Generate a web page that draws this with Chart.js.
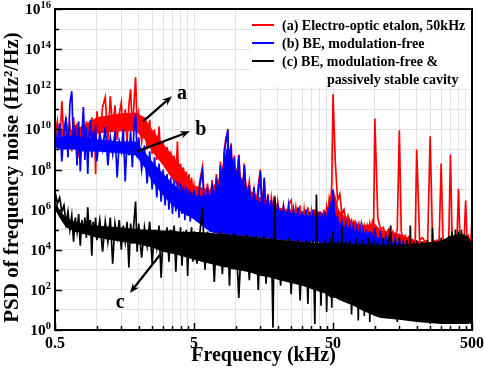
<!DOCTYPE html>
<html>
<head>
<meta charset="utf-8">
<script src="https://cdn.jsdelivr.net/npm/chart.js@4.4.1/dist/chart.umd.min.js"></script>
<style>
  html, body { margin: 0; padding: 0; background: #fff; }
  canvas { display: block; }
</style>
</head>
<body>
<canvas id="psdChart" width="484" height="375"></canvas>
<script>
// ======================== Data ========================
// frequency axis (kHz), shared by the three traces
const freqKHz = [
  0.50,0.52,0.54,0.56,0.58,0.60,0.62,0.64,0.66,0.68,0.70,0.72,0.74,0.76,0.78,0.80,0.82,0.84,0.86,0.88,0.90,0.92,0.94,0.96,0.98,
  1.00,1.05,1.10,1.15,1.20,1.25,1.30,1.35,1.40,1.45,1.50,1.55,1.60,1.65,1.70,1.75,1.80,1.85,1.90,1.95,
  2.0,2.1,2.2,2.3,2.4,2.5,2.6,2.7,2.8,2.9,3.0,3.1,3.2,3.3,3.4,3.5,3.6,3.7,3.8,3.9,4.0,4.1,4.2,4.3,4.4,4.5,4.6,4.7,4.8,4.9,
  5.0,5.25,5.5,5.75,6.0,6.25,6.5,6.75,7.0,7.25,7.5,7.75,8.0,8.25,8.5,8.75,9.0,9.25,9.5,9.75,
  10,10.5,11,11.5,12,12.5,13,13.5,14,14.5,15,15.5,16,16.5,17,17.5,18,18.5,19,19.5,
  20,21,22,23,24,25,26,27,28,29,30,31,32,33,34,35,36,37,38,39,40,41,42,43,44,45,46,47,48,49,
  50,52,54,56,58,60,62,64,66,68,70,72,74,76,78,80,82,84,86,88,90,92,94,96,98,
  100,105,110,115,120,125,130,135,140,145,150,155,160,165,170,175,180,185,190,195,
  200,210,220,230,240,250,260,270,280,290,300,310,320,330,340,350,360,370,380,390,400,410,420,430,440,450,460,470,480,490,500
];

// (a) Electro-optic etalon, 50kHz  (red)
const psdEtalon = [
  4e9,2.5e10,1e9,2.5e11,2.5e9,3e10,6e9,1.6e10,8e8,4e10,2e9,2e10,4e8,1.3e10,3e9,5e10,1.6e9,2.5e10,6e8,2e10,5e9,4e10,1.3e9,3e10,6e7,
  8e10,4e9,1.3e11,4e11,2.5e9,4.5e11,1e10,1.6e11,3e9,6e10,2.2e11,6e9,1e11,2e9,1.6e11,1e12,8e9,2e11,4e12,1.3e10,
  6e10,2.5e9,4e10,1e9,3e10,6e8,1e10,3e8,1.4e10,2.5e8,2.5e9,1.3e8,1.3e9,6e7,8e8,4e7,5e8,2.5e7,2.5e9,1.6e7,2e8,1e7,1.3e8,1e7,8e7,6e6,6e7,5e6,4e7,4e6,
  1.6e7,1e6,2.5e7,1.4e8,1e6,2e7,1.3e6,3e7,1e6,6e7,2e6,2.5e8,3e6,1e9,4e9,7e9,2.5e7,2e9,4e6,5e8,
  4e6,5.6e8,1.6e6,2e8,3e6,2.5e7,1e6,1e7,1.3e6,1.6e7,1e8,1e6,3e7,8e5,6e6,6e5,4e6,8e5,5e6,5e5,
  2.5e6,2e5,1.6e6,1.6e5,2e6,3e6,1.6e5,1.3e6,1.3e5,1.6e6,1e5,1e6,1.3e5,1.3e6,1e5,8e5,1.3e5,1e6,1e5,8e5,1.6e5,8e5,1.3e5,1e6,2.5e5,1.3e6,4e5,4e6,2.5e6,1.6e7,
  5.6e11,2e8,3e6,6e6,6e5,1e6,2.5e5,5e5,2e5,3e5,1.3e5,2.5e5,1e5,2e5,8e4,2e5,6e4,1.6e5,8e4,1.6e5,6e4,2e5,1e5,2.5e5,1.6e5,
  3.5e10,4e5,1e5,1.3e5,5e4,1e5,4e4,8e4,5e4,1e5,9e9,8e4,3e4,5e4,2.5e4,4e4,2e4,3e4,1.6e4,2.5e4,
  1e9,3e4,4e4,2.5e4,3e4,4.5e9,3e4,2.5e4,3e4,2.5e4,2e8,2.5e4,3e4,2e4,3e4,5.6e8,2.5e4,3e4,2e4,4e4,1.1e7,3e4,4e4,2.5e4,5e4,2.8e6,4e4,5e4,3e4,2.5e4,3e5
];

// (b) BE, modulation-free  (blue)
const psdBE = [
  1e10,1.6e9,2e10,2.5e8,8e9,4e10,4e8,2e11,8e11,1e9,1.6e10,1.6e8,2.5e10,8e7,4e9,1.3e11,3e8,1.3e10,6e7,6e9,3e10,4e8,8e9,8e8,1.6e10,
  2.5e8,6e9,1e9,1.3e10,1.6e8,4e9,6e8,8e9,4e7,2.5e9,8e8,1e10,2.5e7,3e9,5e8,8e9,1.3e8,1e10,6e10,4e8,
  4e9,1e8,1.6e9,2e7,8e8,1e7,4e8,4e6,2e8,2.5e6,1e8,1.6e6,6e7,1e6,4e7,6e5,3e7,8e5,2.5e7,4e5,2e7,6e5,1.6e7,3e5,1.3e7,5e5,1e7,2.5e5,8e6,4e5,
  1e7,2.5e5,1.6e7,8e7,3e5,1.3e7,4e5,2e7,2.5e5,4e7,6e5,1.6e8,1e6,6e8,2.5e9,1e10,1e7,1.6e9,1.6e6,4e8,
  1e6,5e8,6e5,1.6e8,1.3e6,1.6e7,3e5,1.3e7,5e5,6e6,8e7,4e5,4e7,3e5,5e6,2e5,3e6,4e5,4e6,1.6e5,
  2e6,1e5,1.3e6,6e4,1.6e6,1.3e5,1e6,5e4,1.3e6,1e5,8e5,4e4,1e6,100,8e5,6e4,1e6,3e4,6e5,8e4,8e5,60,6e5,5e4,8e5,4e4,1.3e6,8e4,2.5e6,1.6e5,
  1e7,1e5,4e5,4e4,2.5e5,5e4,2e5,2.5e4,2e5,4e4,1.6e5,2e4,1.3e5,3e4,1.3e5,1.6e4,1e5,2.5e4,1e5,1.3e4,8e4,2e4,8e4,1.6e4,7e4,
  1e5,1.3e4,6e4,1e4,5e4,1.6e4,4e4,8e3,4e4,1e4,3e4,6e3,2.5e4,1e4,2e4,5e3,1.6e4,8e3,1.6e4,4e3,
  1.3e4,6,1e4,3e3,1e4,4e3,8e3,10,1e4,2.5e3,8e3,4e3,1e4,2e3,8e3,4,1e4,3e3,1.3e4,2.5,1e4,2.5e3,1.3e4,3e3,1e4,3,1.6e4,4e3,1.3e4,5,8e3
];

// (c) BE, modulation-free & passively stable cavity  (black)
const psdBEStable = [
  8e6,2e6,4e6,8e5,1.6e6,2e5,8e5,1e5,5e5,2.5e4,4e5,8e4,6e5,1.6e4,3e5,6e4,4e5,4e4,1.3e6,8e4,3e5,5e3,2.5e5,5e4,4e5,
  3e4,3e5,8e3,2.5e5,2.5e4,4e5,2e3,2e5,4e4,3e5,1e4,1.6e5,2.5e4,2.5e5,1.3e3,2e5,2e4,2.5e5,2.5e6,8e3,
  2e5,4e3,1.3e5,1.6e4,2.5e5,2e3,1e5,1.3e4,1.6e5,400,8e4,8e3,1.3e5,2.5e3,1e5,1e4,1.6e5,800,6e4,6e3,1.3e5,1.6e3,8e4,8e3,1e5,500,6e4,5e3,1.3e5,2.5e3,
  8e4,2e3,6e4,1.3e6,1e3,8e4,3e3,5e4,250,6e4,2.5e3,8e4,600,4e4,4e3,6e4,160,5e4,2e3,6e4,
  5e4,40,4e4,1.6e3,6e4,300,3e4,2.5e3,5e4,100,4e4,2e3,5e4,200,3e4,1.3e3,4e4,1.3,4e6,1e3,
  3e4,160,2.5e4,1e3,4e4,60,2.5e4,600,3e4,30,2e4,400,3e4,20,2.5e4,250,3e4,2,5.6e6,130,2.5e4,16,2e4,300,3e4,8,2e4,100,4e4,13,
  8e4,40,3e4,160,1.6e5,25,2.5e4,400,3e4,6,2e4,80,4e4,3,2.5e4,30,3e4,5,2e4,60,4e4,2.5,2.5e4,20,3e4,
  8,2.5e4,40,4e4,4,2e4,1.6e5,10,3e4,2.5,4e4,50,2e4,5,3e4,16,1.6e5,3,2.5e4,25,
  3e4,4,2.5e4,20,3e4,2,1.3e5,13,2.5e4,3,4e4,25,3e4,5,5e4,16,8e4,3,1e5,30,8e4,6,1e5,10,6e4,4,5e4,16,2.5e4,2,2e4
];

// dense core of each noisy trace (where the trace fills the plot solidly): upper / lower edge
const envFreqKHz = [0.5,0.55,0.6,0.7,0.8,1.0,1.5,1.9,2.2,2.5,3.0,3.5,4.0,5.0,6.5,7.5,8.0,8.5,8.75,9.25,
  10,11,12,13,15,18,20,30,40,45,48,50,52,55,60,70,80,100,110,150,200,300,350,420,470,500];
const etalonCoreTop = [8e9,1e10,1e10,1e10,1.6e10,4e10,6.3e10,7e10,4e10,1e10,2e9,5e8,1.6e8,1.6e7,1e7,3.2e7,1.6e8,8e8,1.6e9,6.3e8,
  1.3e8,4e7,1.6e7,8e6,4e6,2e6,1.3e6,8e5,6.3e5,8e5,3.2e6,1e7,5e6,1e6,5e5,2.2e5,1.6e5,2e5,1e5,6.3e4,2.8e4,2.2e4,2.5e4,2.5e4,2.5e4,2e4];
const etalonCoreBottom = [2.5e9,2.5e9,2.5e9,2.5e9,3.2e9,6.3e9,8e9,8e9,3.2e9,8e8,1.6e8,3.2e7,1e7,1.6e6,8e4,6.3e4,6.3e4,6.3e4,6.3e4,5.6e4,
  5e4,5e4,5e4,4.5e4,4e4,3.5e4,3.2e4,2.5e4,2.5e4,2e4,2e4,2e4,2e4,2e4,1.6e4,1.3e4,1e4,8e3,6.3e3,5e3,4e3,3.2e3,3.2e3,3.2e3,3.2e3,3.2e3];
const beCoreTop = [4e9,4e9,5e9,5e9,4e9,3.2e9,2.5e9,2.5e9,8e8,2.5e8,6.3e7,2e7,1e7,5e6,5e6,1.6e7,1e8,8e8,2e9,5e8,
  1e8,3.2e7,1e7,4e6,2.5e6,1.3e6,1e6,5.6e5,4.5e5,4.5e5,8e5,2e6,6.3e5,2.5e5,1.6e5,1e5,7e4,5e4,3.5e4,2e4,1.1e4,8e3,8e3,8e3,8e3,6.3e3];
const beCoreBottom = [1.3e9,1e9,1e9,1e9,8e8,8e8,6.3e8,5e8,1.3e8,2.5e7,5e6,1.6e6,8e5,3.2e5,8e4,6.3e4,6.3e4,6.3e4,6.3e4,5.6e4,
  5e4,5e4,5e4,4.5e4,4e4,3.5e4,3.2e4,2.5e4,2.5e4,2e4,2e4,2e4,2e4,2e4,1.6e4,1.3e4,1e4,8e3,6.3e3,5e3,4e3,3.2e3,3.2e3,3.2e3,3.2e3,3.2e3];
const stableCoreTop = [2.5e6,8e5,4e5,2.5e5,2e5,1.6e5,1.3e5,1.1e5,1e5,1e5,9e4,9e4,8e4,8e4,7e4,6.3e4,6.3e4,6.3e4,6.3e4,5.6e4,
  5e4,5e4,5e4,4.5e4,4e4,3.5e4,3.2e4,2.5e4,2.2e4,2.2e4,2.2e4,2.2e4,2.2e4,2.2e4,2.2e4,2e4,1.8e4,1.8e4,1.8e4,1.8e4,2e4,2.8e4,5e4,6.3e4,4.5e4,1.8e4];
const stableCoreBottom = [1e6,3.2e5,1.3e5,8e4,6.3e4,4e4,2.5e4,2e4,1.6e4,1.3e4,8e3,6.3e3,5e3,3.2e3,2e3,1.6e3,1.4e3,1.3e3,1.3e3,1.1e3,
  1e3,900,800,700,500,400,320,160,80,63,40,40,40,32,25,16,10,5,4,3.2,2.5,2,2,2,2,2.5];

const seriesLabels = [
  ['(a) Electro-optic etalon, 50kHz'],
  ['(b) BE, modulation-free'],
  ['(c) BE, modulation-free &', 'passively stable cavity']
];
const seriesColors = ['#ff0000', '#0000ff', '#000000'];

// axis ticks
const xMajorTicks = [0.5, 5, 50, 500];
const xMajorLabels = ['0.5', '5', '50', '500'];
const xMinorSteps = [2, 3, 4, 5, 6, 7, 8, 9];
const yDecades = [0, 1, 2, 3, 4, 5, 6, 7, 8, 9, 10, 11, 12, 13, 14, 15, 16];
const yLabelExponents = ['0', '2', '4', '6', '8', '10', '12', '14', '16'];

// annotation arrows: [from x, from y, to x, to y] in data units, letter at [x, y]
const arrowLetters = ['a', 'b', 'c'];
const arrowFrom = [[2.15, 2.5e10], [1.95, 8e8], [2.85, 5.6e3]];
const arrowTo = [[3.47, 4.5e11], [4.68, 8e9], [1.73, 70]];
const letterAt = [[4.1, 5.6e11], [5.6, 1e10], [1.47, 22]];

const xAxisTitle = 'Frequency (kHz)';
const yAxisTitle = 'PSD of frequency noise (Hz\u00B2/Hz)';

// ======================== Drawing helpers ========================
const SERIF = '"Liberation Serif", "Times New Roman", serif';

let xTickList = [];
xMajorTicks.forEach((m, i) => {
  xTickList.push(m);
  if (i < xMajorTicks.length - 1) xMinorSteps.forEach(k => xTickList.push(m * k));
});

function drawText(ctx, str, x, y, size, align, baseline) {
  ctx.font = `bold ${size}px ${SERIF}`;
  ctx.textAlign = align || 'left';
  ctx.textBaseline = baseline || 'alphabetic';
  ctx.fillText(str, x, y);
}

function drawArrow(ctx, x1, y1, x2, y2) {
  const ang = Math.atan2(y2 - y1, x2 - x1);
  const head = 10, half = 4;
  const c = Math.cos(ang), s = Math.sin(ang);
  ctx.beginPath();
  ctx.moveTo(x1, y1);
  ctx.lineTo(x2 - head * 0.6 * c, y2 - head * 0.6 * s);
  ctx.stroke();
  ctx.beginPath();
  ctx.moveTo(x2, y2);
  ctx.lineTo(x2 - head * c + half * s, y2 - head * s - half * c);
  ctx.lineTo(x2 - head * 0.65 * c, y2 - head * 0.65 * s);
  ctx.lineTo(x2 - head * c - half * s, y2 - head * s + half * c);
  ctx.closePath();
  ctx.fill();
}

const decorations = {
  id: 'decorations',
  afterDraw(chart) {
    const { ctx, chartArea: a, scales: { x, y } } = chart;
    ctx.save();

    // legend box
    ctx.fillStyle = '#fff';
    ctx.fillRect(250, a.top + 1, a.right - 251, 77);
    const rows = [25, 43, 61];
    seriesLabels.forEach((lines, i) => {
      ctx.strokeStyle = seriesColors[i];
      ctx.lineWidth = 2;
      ctx.beginPath();
      ctx.moveTo(252, rows[i]);
      ctx.lineTo(274, rows[i]);
      ctx.stroke();
      ctx.fillStyle = '#000';
      drawText(ctx, lines[0], 282, rows[i] + 1, 14, 'left', 'middle');
      if (lines[1]) drawText(ctx, lines[1], 327, rows[i] + 19, 14, 'left', 'middle');
    });

    // frame
    ctx.strokeStyle = '#000';
    ctx.fillStyle = '#000';
    ctx.lineWidth = 2;
    ctx.strokeRect(a.left, a.top, a.right - a.left, a.bottom - a.top);

    // inward ticks
    ctx.lineWidth = 1.5;
    yDecades.forEach(e => {
      const py = Math.round(y.getPixelForValue(Math.pow(10, e))) + 0.5;
      const len = e % 2 === 0 ? 7 : 4;
      ctx.beginPath();
      ctx.moveTo(a.left, py);
      ctx.lineTo(a.left + len, py);
      ctx.stroke();
    });
    xTickList.forEach(v => {
      const px = Math.round(x.getPixelForValue(v)) + 0.5;
      const len = xMajorTicks.includes(v) ? 7 : 4;
      ctx.beginPath();
      ctx.moveTo(px, a.bottom);
      ctx.lineTo(px, a.bottom - len);
      ctx.stroke();
    });

    // y tick labels: 10^n
    yLabelExponents.forEach(exp => {
      const py = y.getPixelForValue(Math.pow(10, Number(exp)));
      ctx.font = `bold 10.5px ${SERIF}`;
      const wExp = ctx.measureText(exp).width;
      const right = a.left - 4;
      drawText(ctx, exp, right, py - 1, 10.5, 'right');
      drawText(ctx, '10', right - wExp, py + 5, 15.5, 'right');
    });

    // x tick labels
    xMajorTicks.forEach((v, i) => {
      drawText(ctx, xMajorLabels[i], x.getPixelForValue(v), a.bottom + 18, 16, 'center');
    });

    // axis titles
    drawText(ctx, xAxisTitle, (a.left + a.right) / 2, a.bottom + 31, 20, 'center');
    ctx.save();
    ctx.translate(13, (a.top + a.bottom) / 2 + 8);
    ctx.rotate(-Math.PI / 2);
    drawText(ctx, yAxisTitle, 0, 0, 21, 'center', 'middle');
    ctx.restore();

    // annotation arrows
    ctx.lineWidth = 2.2;
    arrowLetters.forEach((letter, i) => {
      drawArrow(ctx,
        x.getPixelForValue(arrowFrom[i][0]), y.getPixelForValue(arrowFrom[i][1]),
        x.getPixelForValue(arrowTo[i][0]), y.getPixelForValue(arrowTo[i][1]));
      drawText(ctx, letter, x.getPixelForValue(letterAt[i][0]), y.getPixelForValue(letterAt[i][1]), 20, 'center', 'middle');
    });

    ctx.restore();
  }
};

// ======================== Chart ========================
function toPoints(xs, ys) {
  return ys.map((v, i) => ({ x: xs[i], y: v }));
}

function coreEdge(values, color, order, fillTarget) {
  return {
    data: toPoints(envFreqKHz, values),
    borderColor: 'transparent',
    borderWidth: 0,
    backgroundColor: color,
    fill: fillTarget === undefined ? false : { target: fillTarget },
    order: order
  };
}

const ctx = document.getElementById('psdChart').getContext('2d');
const psdChart = new Chart(ctx, {
  type: 'line',
  data: {
    datasets: [
      { label: seriesLabels[0].join(' '), data: toPoints(freqKHz, psdEtalon), borderColor: seriesColors[0], borderWidth: 1.7, fill: false, order: 5 },
      { label: seriesLabels[1].join(' '), data: toPoints(freqKHz, psdBE), borderColor: seriesColors[1], borderWidth: 1.7, fill: false, order: 3 },
      { label: seriesLabels[2].join(' '), data: toPoints(freqKHz, psdBEStable), borderColor: seriesColors[2], borderWidth: 1.7, fill: false, order: 1 },
      coreEdge(etalonCoreTop, seriesColors[0], 6, 4),
      coreEdge(etalonCoreBottom, seriesColors[0], 6),
      coreEdge(beCoreTop, seriesColors[1], 4, 6),
      coreEdge(beCoreBottom, seriesColors[1], 4),
      coreEdge(stableCoreTop, seriesColors[2], 2, 8),
      coreEdge(stableCoreBottom, seriesColors[2], 2)
    ]
  },
  options: {
    responsive: false,
    animation: false,
    events: [],
    layout: { padding: { top: 9, right: 12, left: 0, bottom: 0 } },
    elements: {
      point: { radius: 0 },
      line: { tension: 0, borderJoinStyle: 'miter' }
    },
    plugins: { legend: { display: false }, tooltip: { enabled: false } },
    scales: {
      x: {
        type: 'logarithmic',
        min: 0.5,
        max: 500,
        afterBuildTicks: axis => { axis.ticks = xTickList.map(v => ({ value: v })); },
        afterFit: axis => { axis.height = 45; },
        ticks: { display: false },
        grid: { color: '#e2e2e2', lineWidth: 1, drawTicks: false },
        border: { display: false }
      },
      y: {
        type: 'logarithmic',
        min: 1,
        max: 1e16,
        afterBuildTicks: axis => { axis.ticks = yDecades.map(e => ({ value: Math.pow(10, e) })); },
        afterFit: axis => { axis.width = 55; },
        ticks: { display: false },
        grid: { color: '#e2e2e2', lineWidth: 1, drawTicks: false },
        border: { display: false }
      }
    }
  },
  plugins: [decorations]
});
</script>
</body>
</html>
